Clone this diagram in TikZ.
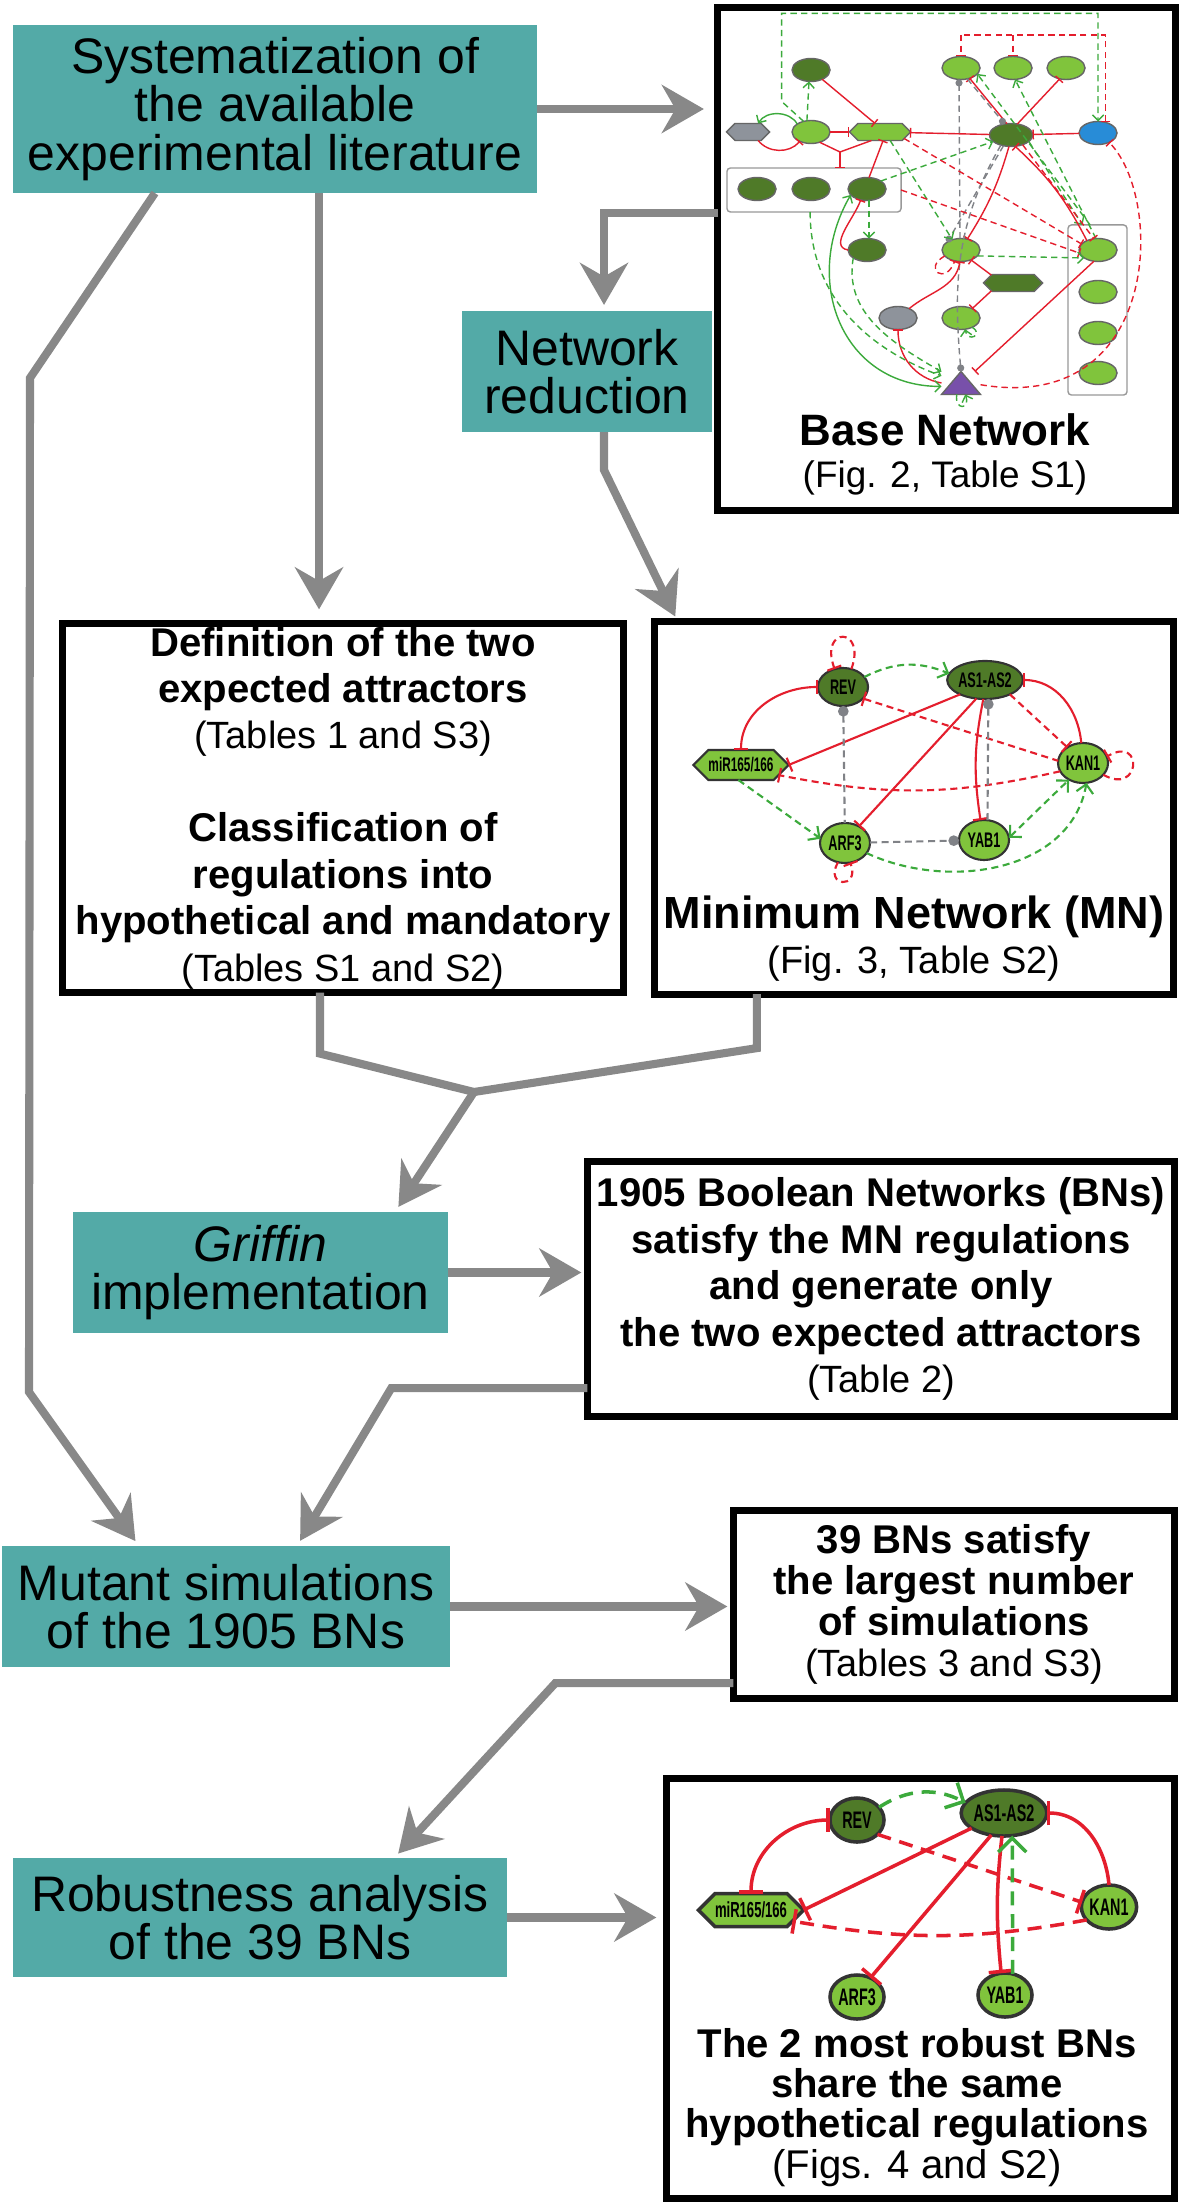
\documentclass[tikz,border=0pt]{standalone}
\usepackage{fontspec}
\setmainfont{Liberation Sans}
\newfontfamily\genefont[FakeStretch=0.6]{Liberation Sans}
\usetikzlibrary{arrows.meta,positioning,shapes.geometric,shapes.symbols}
\definecolor{stepteal}{RGB}{83,170,167}
\definecolor{flowgray}{RGB}{136,136,136}
\definecolor{dkgreen}{RGB}{79,122,40}
\definecolor{ltgreen}{RGB}{128,196,60}
\definecolor{netred}{RGB}{228,30,45}
\definecolor{netgreen}{RGB}{60,170,60}
\definecolor{netgray}{RGB}{128,130,135}
\definecolor{nodegray}{RGB}{142,147,155}
\definecolor{nodeblue}{RGB}{40,140,215}
\definecolor{nodepurple}{RGB}{120,80,170}
\newcommand{\reftext}[1]{{\mdseries\fontsize{10.8}{\the\baselineskip}\selectfont #1}}

\begin{document}
\begin{tikzpicture}[x=0.01cm, y=-0.01cm,
    every node/.append style={inner sep=0pt, outer sep=0pt}]
  \tikzstyle{stepbox} = [fill=stepteal, align=center, font=\fontsize{14.2}{13.8}\selectfont]
  \tikzstyle{resbox} = [draw=black, line width=2pt, fill=white, align=center, font=\fontsize{11.4}{13.2}\selectfont\bfseries]
  \tikzstyle{flow} = [draw=flowgray, line width=2.3pt, -{Stealth[length=4.2mm,width=4.8mm]}, shorten >=0.6mm]
  \tikzstyle{flowline} = [draw=flowgray, line width=2.3pt]
  \tikzstyle{dsh} = [dash pattern=on 1.8pt off 1.2pt]
  \tikzstyle{inh} = [draw=netred, -{Bar[width=0pt 7]}]
  \tikzstyle{inhd} = [draw=netred, dsh, -{Bar[width=0pt 7]}]
  \tikzstyle{inhtwo} = [draw=netred, {Bar[width=0pt 7]}-{Bar[width=0pt 7]}]
  \tikzstyle{act} = [draw=netgreen, dsh, -{Straight Barb[length=0pt 4,width=0pt 8]}]
  \tikzstyle{acttwo} = [draw=netgreen, dsh, {Straight Barb[length=0pt 4,width=0pt 8]}-{Straight Barb[length=0pt 4,width=0pt 8]}]
  \tikzstyle{unk} = [draw=netgray, dsh, -{Circle[length=0pt 5]}]
  \tikzstyle{bnode} = [ellipse, draw=black!60, minimum width=3.8mm, minimum height=2.3mm]
  \tikzstyle{bhex} = [signal, signal to=west and east, draw=black!60, minimum height=1.7mm]
  \tikzstyle{gene} = [ellipse, draw=black!80, font=\genefont\bfseries\fontsize{6}{6}\selectfont]
  \tikzstyle{genehex} = [signal, signal to=west and east, draw=black!80, font=\genefont\bfseries\fontsize{5.6}{6}\selectfont]

  \useasboundingbox (0,0) rectangle (1181,2204);

  \node (sys) [stepbox, minimum width=5.24cm, minimum height=1.68cm] at (275,109) {Systematization of\\the available\\experimental literature};
  \node (nr) [stepbox, minimum width=2.5cm, minimum height=1.21cm] at (587,371.5) {Network\\reduction};
  \node (griffin) [stepbox, minimum width=3.75cm, minimum height=1.21cm] at (260.5,1272.5) {\textit{Griffin}\\implementation};
  \node (mutant) [stepbox, minimum width=4.48cm, minimum height=1.21cm] at (226,1606.5) {Mutant simulations\\of the 1905 BNs};
  \node (robust) [stepbox, minimum width=4.94cm, minimum height=1.19cm] at (260,1917.5) {Robustness analysis\\of the 39 BNs};

  \node (base) [resbox, minimum width=4.57cm, minimum height=5.02cm] at (946.5,259) {};
  \node (def) [resbox, minimum width=5.61cm, minimum height=3.69cm] at (343,808)
    {Definition of the two\\expected attractors\\\reftext{(Tables 1 and S3)}\\[13.2pt]Classification of\\regulations into\\hypothetical and mandatory\\\reftext{(Tables S1 and S2)}};
  \node (mn) [resbox, minimum width=5.18cm, minimum height=3.72cm] at (914,808) {};
  \node (bn) [resbox, minimum width=5.87cm, minimum height=2.55cm] at (881,1289)
    {1905 Boolean Networks (BNs)\\satisfy the MN regulations\\and generate only\\the two expected attractors\\\reftext{(Table 2)}};
  \node (sims) [resbox, minimum width=4.41cm, minimum height=1.88cm, font=\fontsize{11.4}{11.7}\selectfont\bfseries] at (954,1604.5)
    {39 BNs satisfy\\the largest number\\of simulations\\\reftext{(Tables 3 and S3)}};
  \node (best) [resbox, minimum width=5.08cm, minimum height=4.2cm] at (920.5,1988.5) {};

  \node (basetitle) [align=center, font=\fontsize{12.5}{12}\selectfont\bfseries] at (945,454.5) {Base Network\\{\mdseries\fontsize{10.5}{12}\selectfont (Fig. 2, Table S1)}};
  \node (mntitle) [align=center, font=\fontsize{12.8}{12.8}\selectfont\bfseries] at (914,938.5) {Minimum Network (MN)\\\reftext{(Fig. 3, Table S2)}};
  \node (besttitle) [align=center, font=\fontsize{11.4}{11.4}\selectfont\bfseries] at (917,2107.5) {The 2 most robust BNs\\share the same\\hypothetical regulations\\{\mdseries (Figs. 4 and S2)}};

  \draw[flow, shorten >=1.4mm] (sys.east) -- (sys.east -| base.west);
  \draw[flow] ([yshift=4.6mm]base.west) -| ([xshift=1.7mm]nr.north);
  \draw[flow] ([xshift=1.7mm]nr.south) -- ++(0,38) -- ([xshift=-2.36cm]mn.north);
  \draw[flow, shorten >=1.4mm] ([xshift=4.4mm]sys.south) -- ([xshift=4.4mm]sys.south |- def.north);
  \draw[flow] ([xshift=-1.2cm]sys.south) -- (30,378) -- (29,1392) -- ([xshift=-8.7mm]mutant.north);
  \coordinate (merge) at (474,1092);
  \draw[flowline] ([xshift=-2.3mm]def.south) -- ++(0,61) -- (merge);
  \draw[flowline] ([xshift=-15.7mm]mn.south) -- ++(0,54) -- (merge);
  \draw[flow] (merge) -- ([xshift=1.345cm]griffin.north);
  \draw[flow] (griffin.east) -- (griffin.east -| bn.west);
  \draw[flow] ([yshift=-9.9mm]bn.west) -- ++(-196,0) -- ([xshift=7.1mm]mutant.north);
  \draw[flow] (mutant.east) -- (mutant.east -| sims.west);
  \draw[flow] ([yshift=-7.85mm]sims.west) -- ++(-178,0) -- ([xshift=1.34cm]robust.north);
  \draw[flow, shorten >=1mm] (robust.east) -- (robust.east -| best.west);

  \begin{scope}[line width=0.4pt]
    \node (b1) [bnode, fill=dkgreen] at (811,70) {};
    \node (b2) [bnode, fill=ltgreen] at (961,68) {};
    \node (b3) [bnode, fill=ltgreen] at (1013,68) {};
    \node (b4) [bnode, fill=ltgreen] at (1066,68) {};
    \node (bghex) [bhex, fill=nodegray, minimum width=4.3mm] at (748,132) {};
    \node (b5) [bnode, fill=ltgreen] at (811,132) {};
    \node (bhexa) [bhex, fill=ltgreen, minimum width=6.1mm] at (880,132) {};
    \node (b6) [bnode, fill=dkgreen, minimum width=4.3mm] at (1011,135) {};
    \node (bblue) [bnode, fill=nodeblue] at (1098,133) {};
    \node (grpA) [draw=black!40, rounded corners=1pt, minimum width=1.74cm, minimum height=4.4mm] at (814,190) {};
    \node (b7) [bnode, fill=dkgreen] at (757,189) {};
    \node (b8) [bnode, fill=dkgreen] at (811,189) {};
    \node (b9) [bnode, fill=dkgreen] at (867,189) {};
    \node (b10) [bnode, fill=dkgreen] at (867,250) {};
    \node (b11) [bnode, fill=ltgreen] at (961,250) {};
    \node (grpB) [draw=black!40, rounded corners=1pt, minimum width=5.9mm, minimum height=1.7cm] at (1097.5,310) {};
    \node (b12) [bnode, fill=ltgreen] at (1098,250) {};
    \node (b13) [bnode, fill=ltgreen] at (1098,292) {};
    \node (b14) [bnode, fill=ltgreen] at (1098,333) {};
    \node (b15) [bnode, fill=ltgreen] at (1098,373) {};
    \node (bdhex) [bhex, fill=dkgreen, minimum width=5.9mm] at (1013,283) {};
    \node (bgrey) [bnode, fill=nodegray] at (898,318) {};
    \node (b16) [bnode, fill=ltgreen] at (961,318) {};
    \node (btri) [minimum width=3.9mm, minimum height=2.3mm] at (961,383) {};
    \filldraw[fill=nodepurple, draw=black!60] (btri.south west) -- (btri.south east) -- (btri.north) -- cycle;

    \draw[act] (b5.110) -- (b1.-100);
    \draw[act] (b5.125) -- ++(-22,-20) -- ++(0,-88) -| (bblue.north);
    \draw[draw=netgreen, -{Straight Barb[length=0pt 4,width=0pt 8]}] (b5.150) to[bend right=60] (bghex.40);
    \draw[inh] (bghex.-40) to[bend right=50] (b5.-140);
    \draw[inh] (b5) -- (bhexa);
    \draw[inh] (b1) -- (bhexa.120);
    \coordinate (bY) at (840,152);
    \draw[netred] (b5.-50) -- (bY) -- (bhexa.-135);
    \draw[inh] (bY) -- (bY |- grpA.north);
    \draw[inh] (b9.80) -- (bhexa.-70);
    \draw[inh] (b6) -- (bhexa);
    \draw[inh] (bblue) -- (b6);
    \draw[inh] (b6.110) -- (b2.-50);
    \draw[inh] (b6.60) -- (b4.-120);
    \draw[act] (grpB.95) -- (b2.-20);
    \draw[act] (b12.100) -- (b3.-80);
    \draw[act] (b6.-20) -- (grpB.100);
    \draw[inh] (b6.-100) to[bend left=8] (b11.60);
    \draw[inh] (b12.140) to[bend right=10] (b6.-70);
    \draw[unk] (b11.95) -- (b2.-100);
    \draw[unk] (b2.-60) -- (b6.120);
    \draw[unk] (b6.-125) -- (b11.150);
    \draw[unk] (b6.-135) to[out=-120,in=95] (btri.north);
    \draw[act] (bhexa.-40) -- (b11.130);
    \draw[act] (b9.30) -- (b6.-160);
    \draw[inhd] (bhexa.-15) -- (b12.160);
    \draw[inhd] (grpA.east) -- (b12.-170);
    \draw[inhd] (b6.-40) -- (b12.110);
    \draw[act] (b11.-20) -- (b12.-150);
    \draw[act] (b9.-80) -- (b10.80);
    \draw[inh] (b10.180) to[out=170,in=-110] (b9.-120);
    \draw[inhd] (b11.-160) to[out=-150,in=-110,looseness=6] (b11.-120);
    \draw[inh] (bdhex.160) -- (b11.-45);
    \draw[inh] (bdhex.-160) -- (b16.40);
    \draw[act] (b16.-40) to[out=-30,in=-80,looseness=5] (b16.-70);
    \draw[inh] (bgrey.40) to[out=40,in=-100] (b11.-95);
    \draw[inh] (btri.west) to[out=170,in=-90] (bgrey.south);
    \draw[inh] (b12.-110) -- (btri.40);
    \draw[draw=netgreen, {Straight Barb[length=0pt 4,width=0pt 8]}-{Straight Barb[length=0pt 4,width=0pt 8]}] (b9.-160) to[out=-120,in=180,looseness=1.2] (btri.-170);
    \draw[act] (grpA.-100) to[out=-90,in=160] (btri.160);
    \draw[act] (b10.-150) to[out=-100,in=150] (btri.150);
    \draw[inhd] (btri.-5) .. controls (1160,415) and (1165,200) .. (bblue.-40);
    \coordinate (bbr) at (1110,35);
    \draw[netred, dsh, {Bar[width=0pt 7]}-] (bblue.55) |- (b2.north |- bbr);
    \draw[inhd] (b2.north |- bbr) -- (b2.north);
    \draw[inhd] (b3.north |- bbr) -- (b3.north);
    \draw[act] (btri.-110) to[out=-100,in=-70,looseness=5] (btri.-70);
  \end{scope}

  \begin{scope}[line width=0.6pt, dsh/.style={dash pattern=on 2pt off 1.3pt}]
    \node (rev) [gene, fill=dkgreen, minimum width=5mm, minimum height=3.8mm] at (843,687) {REV};
    \node (as) [gene, fill=dkgreen, minimum width=6mm, minimum height=3.8mm] at (985,680) {AS1-AS2};
    \node (mir) [genehex, fill=ltgreen, minimum width=8.7mm, minimum height=3mm] at (741,765) {miR165/166};
    \node (kan) [gene, fill=ltgreen, minimum width=5mm, minimum height=4mm] at (1083,763) {KAN1};
    \node (arf) [gene, fill=ltgreen, minimum width=5mm, minimum height=4mm] at (845,843) {ARF3};
    \node (yab) [gene, fill=ltgreen, minimum width=5mm, minimum height=4mm] at (984,840) {YAB1};

    \draw[inhd] (rev.65) to[out=70,in=110,looseness=7] (rev.115);
    \draw[act] (rev.25) to[bend left=25] (as.170);
    \draw[inhtwo] (mir.north) to[out=90,in=180] (rev.west);
    \draw[inh] (as.-150) -- (mir.east);
    \draw[inh] (as.-115) -- (arf.50);
    \draw[inh] (as.-95) to[bend right=10] (yab.100);
    \draw[inh] (kan.95) to[out=95,in=0] (as.east);
    \draw[inhd] (as.-30) -- (kan.135);
    \draw[inhd, {Bar[width=0pt 7]}-] (rev.-30) -- (kan.175);
    \draw[inhd] (kan.-160) to[bend left=12] (mir.-15);
    \draw[inhd] (kan.-30) to[out=-30,in=30,looseness=6] (kan.15);
    \draw[act] (mir.-100) -- (arf.170);
    \draw[act] (arf.-25) to[out=-25,in=-100] (kan.-80);
    \draw[acttwo] (yab.5) -- (kan.-130);
    \draw[inhd] (arf.-110) to[out=-120,in=-70,looseness=6] (arf.-75);
    \draw[unk, {Circle[length=0pt 5]}-] (rev) -- (arf);
    \draw[unk] (yab.80) -- (as.-80);
    \draw[unk] (arf) -- (yab);
  \end{scope}

  \begin{scope}[line width=1pt, dsh/.style={dash pattern=on 4pt off 2.5pt}]
    \tikzstyle{gene} = [ellipse, draw=black!80, font=\genefont\bfseries\fontsize{6.8}{7}\selectfont]
    \node (rev2) [gene, fill=dkgreen, minimum width=5.4mm, minimum height=4.4mm] at (857,1820) {REV};
    \node (as2) [gene, fill=dkgreen, minimum width=6.4mm, minimum height=4.6mm] at (1004,1813) {AS1-AS2};
    \node (mir2) [genehex, fill=ltgreen, minimum width=9.1mm, minimum height=3.3mm, font=\genefont\bfseries\fontsize{6.2}{7}\selectfont] at (751,1910) {miR165/166};
    \node (kan2) [gene, fill=ltgreen, minimum width=5.2mm, minimum height=4.4mm] at (1109,1907) {KAN1};
    \node (arf2) [gene, fill=ltgreen, minimum width=5.4mm, minimum height=4.4mm] at (857,1997) {ARF3};
    \node (yab2) [gene, fill=ltgreen, minimum width=5.4mm, minimum height=4.4mm] at (1005,1995) {YAB1};

    \draw[act] (rev2.30) to[bend left=30] (as2.165);
    \draw[inhtwo] (mir2.north) to[out=90,in=180] (rev2.west);
    \draw[inh] (as2.-155) -- (mir2.east);
    \draw[inh] (as2.-120) -- (arf2.55);
    \draw[inh] (as2.-95) to[bend right=6] (yab2.100);
    \draw[inh] (kan2.north) to[out=95,in=0] (as2.east);
    \draw[inhd] (rev2.-35) -- (kan2.170);
    \draw[inhd] (kan2.-150) to[bend left=10] (mir2.-15);
    \draw[act] (yab2.70) -- (as2.-70);
  \end{scope}
\end{tikzpicture}
\end{document}
